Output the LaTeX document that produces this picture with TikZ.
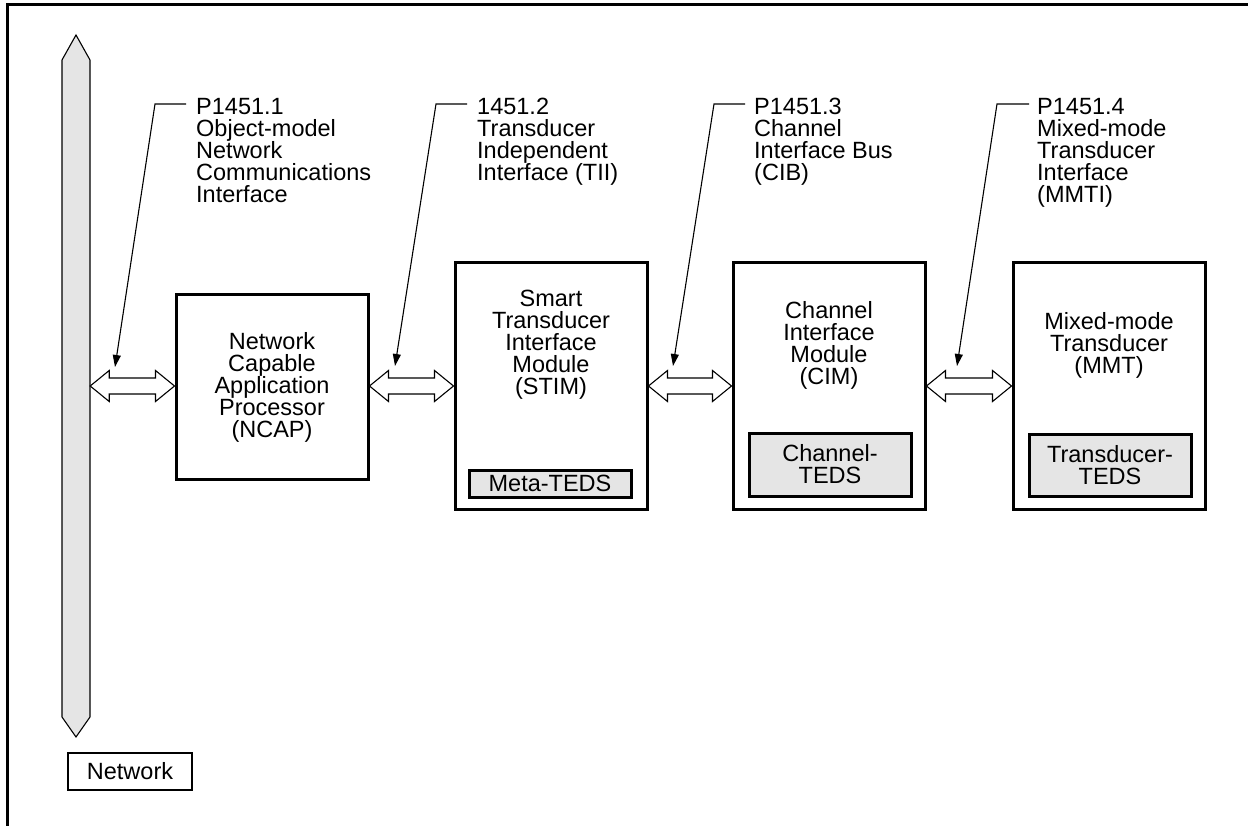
\documentclass[tikz,border=0pt]{standalone}
\usepackage{fontspec}
\setmainfont{Liberation Sans}
\usetikzlibrary{calc,arrows.meta,positioning}
\definecolor{tedsgray}{gray}{0.9}
% double-headed link between two boxes, on the common axis
\newcommand\linkarrow[2]{%
  \draw[linkarr] (#1.east|-axis) -- ++(19,-15.5) -- ++(0,7.5)
    -- ($(#2.west|-axis)+(-19,-8)$) -- ++(0,-7.5) -- (#2.west|-axis)
    -- ++(-19,15.5) -- ++(0,-7.5) -- ($(#1.east|-axis)+(19,8)$)
    -- ++(0,7.5) -- cycle;}

\begin{document}
\begin{tikzpicture}[x=1pt,y=-1pt,
  every node/.style={font=\fontsize{23.5}{22}\selectfont},
  modbox/.style={draw,line width=3pt,minimum width=192pt,inner sep=0pt,align=center},
  tedsbox/.style={draw,fill=tedsgray,line width=3pt,minimum width=162pt,inner sep=0pt,align=center},
  txt/.style={align=center,inner sep=0pt},
  note/.style={align=left,anchor=north west,inner sep=0pt},
  leader/.style={line width=1.1pt,-{Triangle[length=12pt,width=8pt]}},
  linkarr/.style={draw,fill=white,line width=1.1pt,line join=miter}]
\useasboundingbox (0,0) rectangle (1248,826);
% frame
\draw[line width=3pt] (7,826) -- (7,5) -- (1248,5);

% network bus
\draw[fill=tedsgray,line width=1.1pt] (76,35) -- (90,60) -- (90,717) -- (76,737)
  -- (62,717) -- (62,60) -- cycle;
\node[inner sep=0pt,minimum width=28pt,minimum height=657pt] (bus) at (76,386) {};
\node[draw,line width=2.5pt,minimum width=124pt,minimum height=37pt,inner sep=0pt] (net) at (130,771.5) {Network};
\coordinate (axis) at (0,386);

% modules
\node[modbox,minimum height=184pt] (ncap) at (272,387) {Network\\Capable\\Application\\Processor\\(NCAP)};

\node[modbox,minimum height=246pt] (stim) at (551,386) {};
\node[txt] (stimtxt) at (551,345) {Smart\\Transducer\\Interface\\Module\\(STIM)};
\node[tedsbox,minimum height=27pt] (stimteds) at (550,483.5) {Meta-TEDS};

\node[modbox,minimum height=246pt] (cim) at (829,386) {};
\node[txt] (cimtxt) at (829,345) {Channel\\Interface\\Module\\(CIM)};
\node[tedsbox,minimum height=63pt] (cimteds) at (830,464.5) {Channel-\\TEDS};

\node[modbox,minimum height=246pt] (mmt) at (1109,386) {};
\node[txt] (mmttxt) at (1109,345) {Mixed-mode\\Transducer\\(MMT)};
\node[tedsbox,minimum height=62pt] (mmtteds) at (1110,465) {Transducer-\\TEDS};

% links
\linkarrow{bus}{ncap}
\linkarrow{ncap}{stim}
\linkarrow{stim}{cim}
\linkarrow{cim}{mmt}

% standards
\node[note] (std1) at (196,98) {P1451.1\\Object-model\\Network\\Communications\\Interface};
\coordinate (s1) at (186,104);
\coordinate (k1) at (155,104);
\coordinate (t1) at (115,367);
\draw[leader] (s1) -- (k1) -- (t1);

\node[note] (std2) at (477,98) {1451.2\\Transducer\\Independent\\Interface (TII)};
\coordinate (s2) at (467,104);
\coordinate (k2) at (436,104);
\coordinate (t2) at (395,366);
\draw[leader] (s2) -- (k2) -- (t2);

\node[note] (std3) at (754,98) {P1451.3\\Channel\\Interface Bus\\(CIB)};
\coordinate (s3) at (745,104);
\coordinate (k3) at (714,104);
\coordinate (t3) at (673,366);
\draw[leader] (s3) -- (k3) -- (t3);

\node[note] (std4) at (1037,98) {P1451.4\\Mixed-mode\\Transducer\\Interface\\(MMTI)};
\coordinate (s4) at (1029,104);
\coordinate (k4) at (997,104);
\coordinate (t4) at (957,366);
\draw[leader] (s4) -- (k4) -- (t4);
\end{tikzpicture}
\end{document}
